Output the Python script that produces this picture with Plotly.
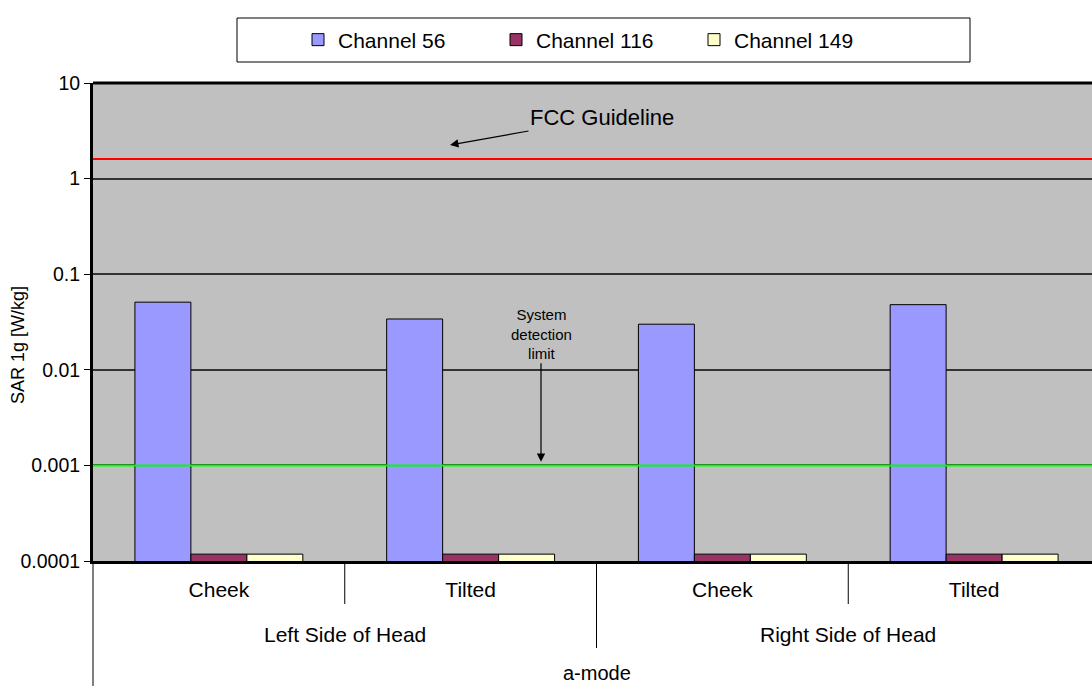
import numpy as np
import plotly.graph_objects as go

# ---- data ----
positions = ["Cheek", "Tilted", "Cheek", "Tilted"]
sides = ["Left Side of Head", "Left Side of Head", "Right Side of Head", "Right Side of Head"]
mode_label = "a-mode"
series_names = ["Channel 56", "Channel 116", "Channel 149"]
ch56 = [0.051, 0.034, 0.030, 0.048]
ch116 = [0.000118, 0.000118, 0.000118, 0.000118]
ch149 = [0.000118, 0.000118, 0.000118, 0.000118]
fcc_limit = 1.6
detection_limit = 0.001
y_tick_vals = [0.0001, 0.001, 0.01, 0.1, 1, 10]
y_tick_text = ["0.0001", "0.001", "0.01", "0.1", "1", "10"]
y_title = "SAR 1g [W/kg]"

colors = ["#9999FF", "#993366", "#FFFFCC"]
FONT = "Liberation Sans, Arial, sans-serif"

W, H = 1092, 686
L, T, B = 93, 83, 125
plot_w = W - L
plot_h = H - T - B

# unique category keys, displayed with the position labels
cat_keys = [f"{s} | {p}" for s, p in zip(sides, positions)]

fig = go.Figure()
for name, vals, col in zip(series_names, [ch56, ch116, ch149], colors):
    fig.add_trace(go.Bar(
        x=cat_keys, y=vals, name=name,
        marker=dict(color=col, line=dict(color="#000000", width=1)),
    ))

n = len(positions)
x_r0, x_r1 = -0.5, -0.5 + n * plot_w / 1007  # plot is cropped at the right edge


def xp(v):
    return (v - x_r0) / (x_r1 - x_r0)


def yp_px(py):
    # pixel row -> paper y
    return (H - B - py) / plot_h


def xp_px(px):
    return (px - L) / plot_w


shapes = []
shapes.append(dict(type="line", xref="paper", yref="y", x0=0, x1=1,
                   y0=fcc_limit, y1=fcc_limit, line=dict(color="#FF0000", width=2)))
shapes.append(dict(type="line", xref="paper", yref="y", x0=0, x1=1,
                   y0=detection_limit, y1=detection_limit, line=dict(color="#00FF00", width=2)))
# category dividers
shapes.append(dict(type="line", xref="paper", yref="paper", x0=xp(-0.5), x1=xp(-0.5),
                   y0=0, y1=yp_px(686), line=dict(color="black", width=1)))
for b in [0.5, 2.5]:
    shapes.append(dict(type="line", xref="paper", yref="paper", x0=xp(b), x1=xp(b),
                       y0=0, y1=yp_px(604), line=dict(color="black", width=1)))
shapes.append(dict(type="line", xref="paper", yref="paper", x0=xp(1.5), x1=xp(1.5),
                   y0=0, y1=yp_px(648), line=dict(color="black", width=1)))
# top border of plot area
shapes.append(dict(type="line", xref="paper", yref="paper", x0=0, x1=1, y0=1, y1=1,
                   line=dict(color="black", width=3)))
# legend frame
shapes.append(dict(type="rect", xref="paper", yref="paper",
                   x0=xp_px(237), x1=xp_px(970), y0=yp_px(62), y1=yp_px(18),
                   line=dict(color="black", width=1), fillcolor="rgba(0,0,0,0)"))

annotations = [
    dict(text="FCC Guideline", xref="paper", yref="y", x=xp_px(450), y=np.log10(2.25),
         ax=152, ay=-27, showarrow=True, arrowhead=2, arrowsize=1.4, arrowwidth=1.2,
         arrowcolor="black", font=dict(family=FONT, size=22, color="black")),
    dict(text="System<br>detection<br>limit", xref="paper", yref="y", x=xp_px(541),
         y=np.log10(0.00109), ax=0, ay=-128, showarrow=True, arrowhead=2, arrowsize=1.4,
         arrowwidth=1.2, arrowcolor="black", font=dict(family=FONT, size=15, color="black")),
    dict(text=mode_label, xref="paper", yref="paper", x=xp(1.5), y=yp_px(673),
         showarrow=False, xanchor="center", yanchor="middle",
         font=dict(family=FONT, size=20, color="black")),
    dict(text=y_title, xref="paper", yref="paper", x=xp_px(18), y=yp_px(345),
         textangle=-90, showarrow=False, xanchor="center", yanchor="middle",
         font=dict(family=FONT, size=18, color="black")),
]
# group labels (second category level)
groups = list(dict.fromkeys(sides))
for g in groups:
    idx = [i for i, s in enumerate(sides) if s == g]
    annotations.append(dict(text=g, xref="paper", yref="paper", x=xp(float(np.mean(idx))),
                            y=yp_px(634), showarrow=False, xanchor="center", yanchor="middle",
                            font=dict(family=FONT, size=21, color="black")))

fig.update_layout(
    width=W, height=H,
    margin=dict(l=L, r=0, t=T, b=B, autoexpand=False),
    paper_bgcolor="white", plot_bgcolor="#C0C0C0",
    font=dict(family=FONT, size=18, color="black"),
    barmode="group", bargap=0.333, bargroupgap=0,
    showlegend=True,
    legend=dict(orientation="h", xref="container", yref="container",
                x=298 / W, xanchor="left", y=1 - 40 / H, yanchor="middle",
                bgcolor="rgba(0,0,0,0)", borderwidth=0,
                font=dict(family=FONT, size=21), entrywidth=153, entrywidthmode="pixels"),
    shapes=shapes, annotations=annotations,
)
fig.update_xaxes(type="category", range=[x_r0, x_r1], tickvals=cat_keys, ticktext=positions,
                 showline=True, linecolor="black", linewidth=3, mirror=False, automargin=False,
                 ticks="", ticklabelstandoff=8, tickfont=dict(family=FONT, size=21), showgrid=False)
fig.update_yaxes(type="log", range=[-4, 1], tickvals=y_tick_vals, ticktext=y_tick_text,
                 showline=True, linecolor="black", linewidth=3, ticks="outside", ticklen=6,
                 tickcolor="black", tickfont=dict(family=FONT, size=19.5), automargin=False,
                 showgrid=True, gridcolor="#333333", gridwidth=1.5, zeroline=False)

fig.write_html("out.html", config={"displayModeBar": False},
               post_script="document.body.style.margin='0';document.body.style.overflow='hidden';")
